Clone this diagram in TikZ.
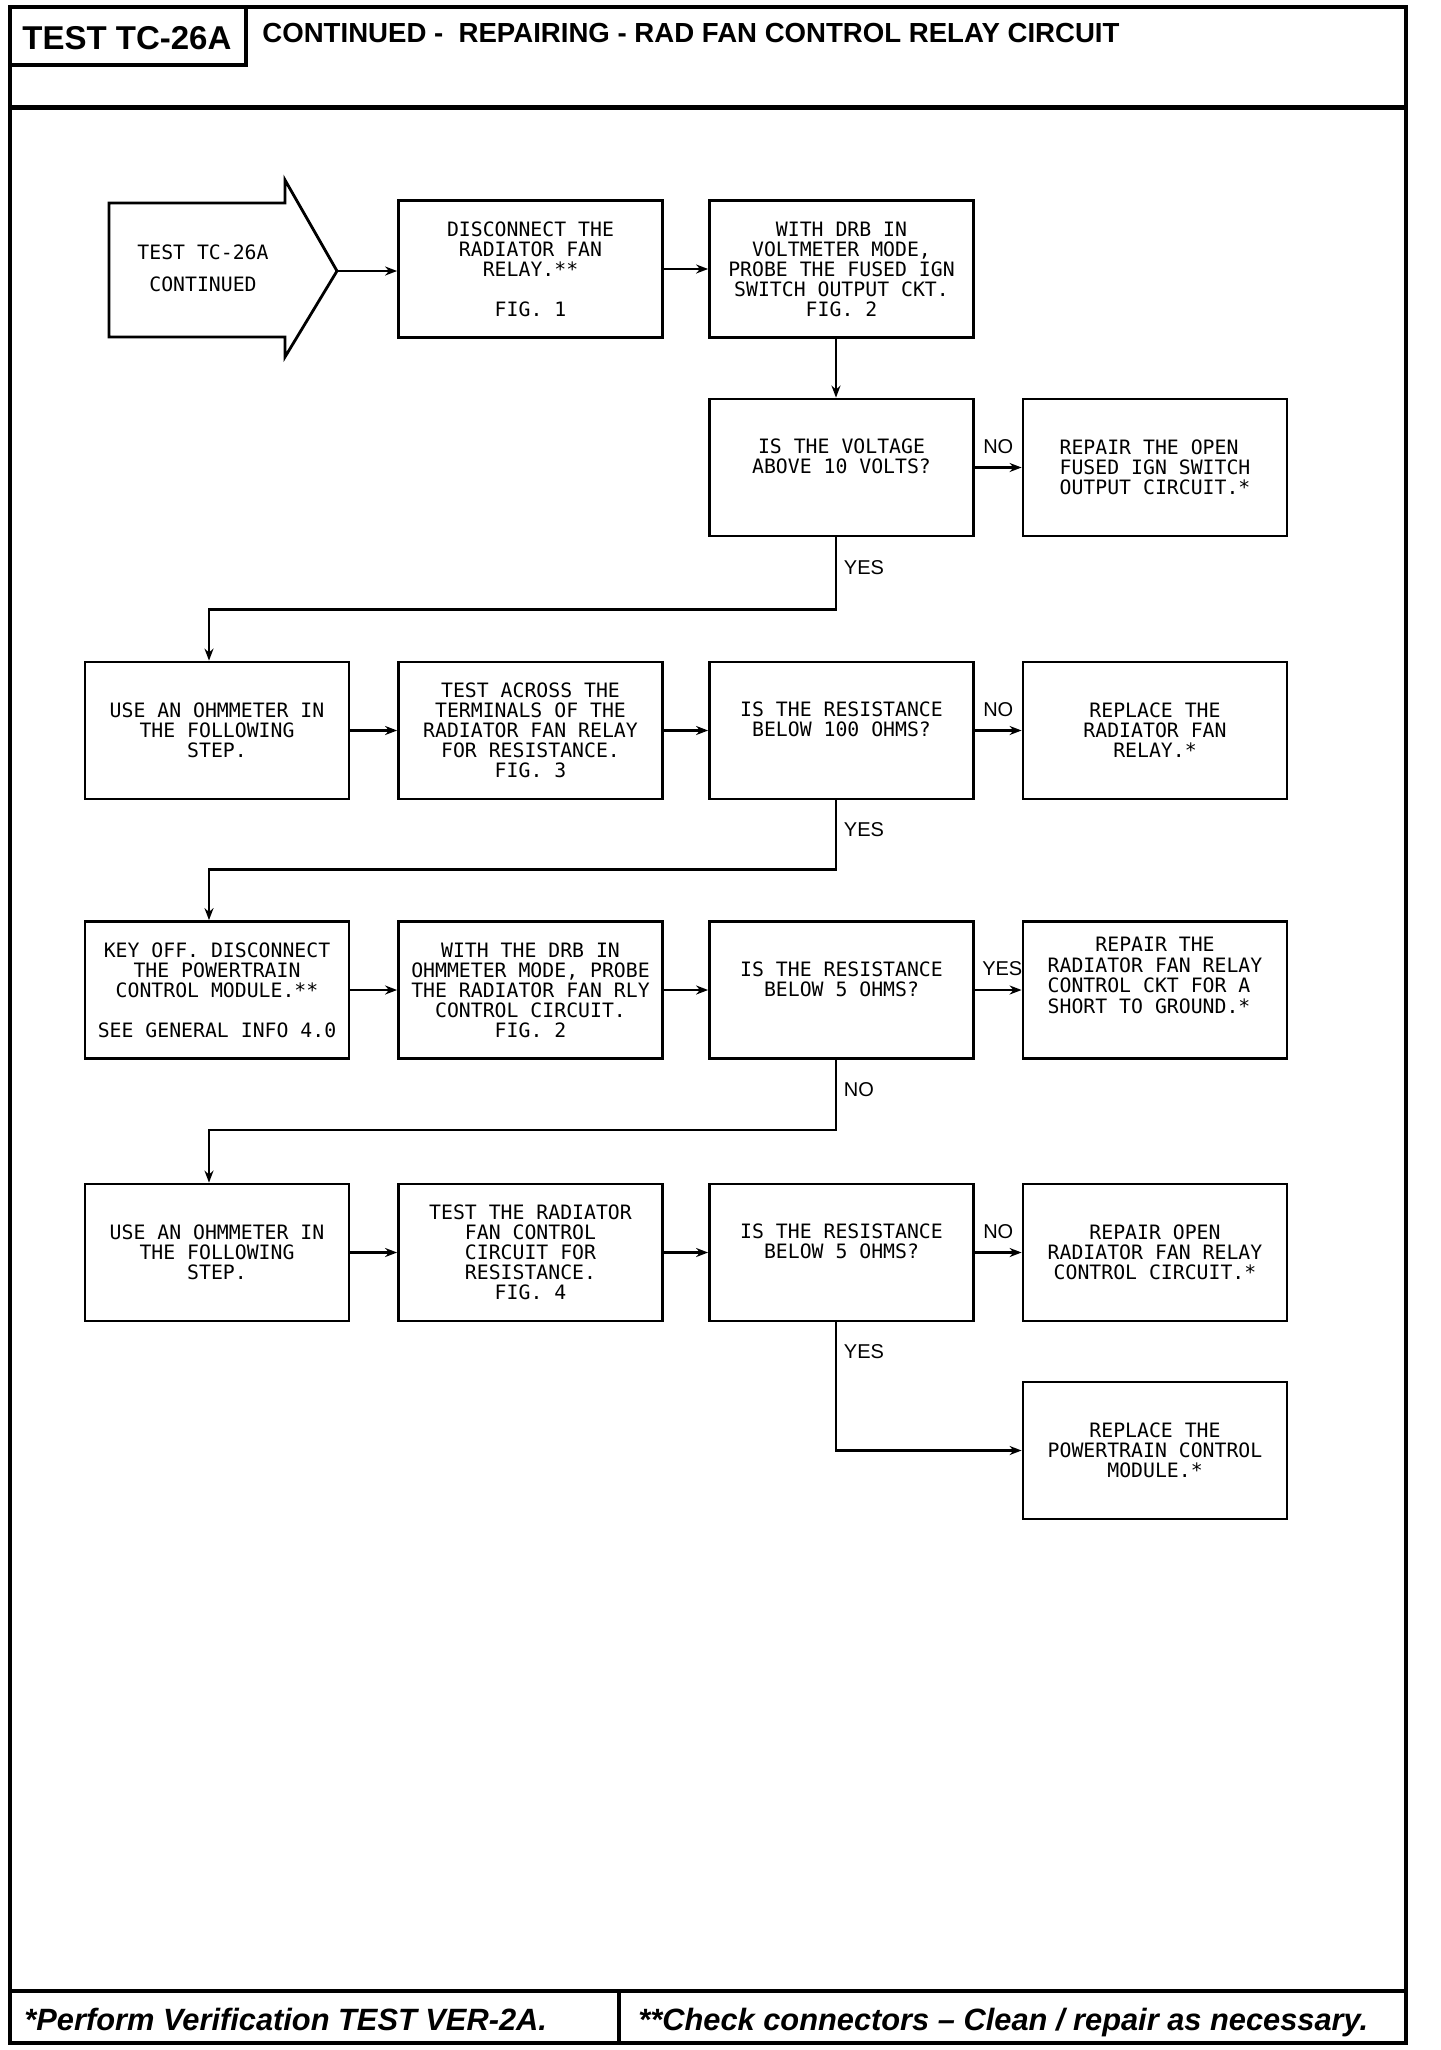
\documentclass[tikz,border=0pt]{standalone}
\usepackage{fontspec}
\setmainfont{Liberation Sans}
\newfontfamily\plotfont{DejaVu Sans Mono}
\usetikzlibrary{arrows.meta,calc}
\begin{document}
\begin{tikzpicture}[x=0.5pt,y=-0.5pt,
  box/.style={draw,line width=1.4pt,minimum width=132pt,minimum height=68.5pt,inner sep=0pt,align=center,font=\plotfont\fontsize{9.9}{10}\selectfont},
  txt/.style={inner sep=0pt,align=center,font=\plotfont\fontsize{9.9}{10}\selectfont},
  conn/.style={line width=1.3pt,-{Stealth[length=6pt,width=4.5pt]}},
  lbl/.style={inner sep=0pt,font=\fontsize{10}{12}\selectfont},
  frame/.style={line width=2pt},
]
\useasboundingbox (0,0) rectangle (1440,2050);
% frame
\draw[frame] (10,7) rectangle (1406,2043);
\draw[line width=1.6pt] (10,65) -| (246,7);
\draw[line width=2.5pt] (10,108) -- (1406,108);
\draw[frame] (10,1991) -- (1406,1991);
\draw[line width=1.6pt] (619,1991) -- (619,2043);
\node[anchor=base west,inner sep=0pt,font=\bfseries\fontsize{16.5}{18}\selectfont] (hdr) at (22,50) {TEST TC-26A};
\node[anchor=base west,inner sep=0pt,font=\bfseries\fontsize{13.8}{16}\selectfont] (title) at (262,43) {CONTINUED -\ \ REPAIRING - RAD FAN CONTROL RELAY CIRCUIT};
\node[anchor=base west,inner sep=0pt,font=\bfseries\itshape\fontsize{15.4}{18}\selectfont] (foot1) at (24,2030) {*Perform Verification TEST VER-2A.};
\node[anchor=base west,inner sep=0pt,font=\bfseries\itshape\fontsize{15.4}{18}\selectfont] (foot2) at (638,2030) {**Check connectors – Clean / repair as necessary.};

% start arrow
\draw[line width=1.4pt] (109,203) -- (285,203) -- (285,180) -- (337,271) -- (285,357) -- (285,337) -- (109,337) -- cycle;
\coordinate (Atip) at (337,271);
\node[txt] (A) at (203,268) {TEST TC-26A\\[6pt]CONTINUED};

% row 1
\node[box] (B1) at (530.5,269) {DISCONNECT THE\\RADIATOR FAN\\RELAY.**\\[10pt]FIG. 1};
\node[box] (C1) at (841.5,269) {WITH DRB IN\\VOLTMETER MODE,\\PROBE THE FUSED IGN\\SWITCH OUTPUT CKT.\\FIG. 2};
% row 2
\node[box] (D) at (841.5,467.5) {};
\node[txt] (Dt) at ([yshift=5.5pt]D.center) {IS THE VOLTAGE\\ABOVE 10 VOLTS?};
\node[box,align=left] (E) at (1155,467.5) {REPAIR THE OPEN\\FUSED IGN SWITCH\\OUTPUT CIRCUIT.*};
% row 3
\node[box] (F) at (217,730.5) {USE AN OHMMETER IN\\THE FOLLOWING\\STEP.};
\node[box] (G) at (530.5,730.5) {TEST ACROSS THE\\TERMINALS OF THE\\RADIATOR FAN RELAY\\FOR RESISTANCE.\\FIG. 3};
\node[box] (H) at (841.5,730.5) {};
\node[txt] (Ht) at ([yshift=5.5pt]H.center) {IS THE RESISTANCE\\BELOW 100 OHMS?};
\node[box] (I) at (1155,730.5) {REPLACE THE\\RADIATOR FAN\\RELAY.*};
% row 4
\node[box] (J) at (217,990) {KEY OFF. DISCONNECT\\THE POWERTRAIN\\CONTROL MODULE.**\\[10pt]SEE GENERAL INFO 4.0};
\node[box] (K) at (530.5,990) {WITH THE DRB IN\\OHMMETER MODE, PROBE\\THE RADIATOR FAN RLY\\CONTROL CIRCUIT.\\FIG. 2};
\node[box] (L) at (841.5,990) {};
\node[txt] (Lt) at ([yshift=5.5pt]L.center) {IS THE RESISTANCE\\BELOW 5 OHMS?};
\node[box] (M) at (1155,990) {};
\node[txt] (Mt) at ([yshift=5.9pt]M.center) {\begin{tabular}{@{}l@{}}\multicolumn{1}{@{}c@{}}{REPAIR THE}\\RADIATOR FAN RELAY\\CONTROL CKT FOR A\\SHORT TO GROUND.*\end{tabular}};
% row 5
\node[box] (N) at (217,1252.5) {USE AN OHMMETER IN\\THE FOLLOWING\\STEP.};
\node[box] (O) at (530.5,1252.5) {TEST THE RADIATOR\\FAN CONTROL\\CIRCUIT FOR\\RESISTANCE.\\FIG. 4};
\node[box] (P) at (841.5,1252.5) {};
\node[txt] (Pt) at ([yshift=5.5pt]P.center) {IS THE RESISTANCE\\BELOW 5 OHMS?};
\node[box] (Q) at (1155,1252.5) {REPAIR OPEN\\RADIATOR FAN RELAY\\CONTROL CIRCUIT.*};
% row 6
\node[box] (R) at (1155,1450.5) {REPLACE THE\\POWERTRAIN CONTROL\\MODULE.*};

% connectors
\draw[conn] (Atip) -- (B1.west |- Atip);
\draw[conn] (B1.east) -- (C1.west);
\draw[conn] ([xshift=-2.75pt]C1.south) -- ([xshift=-2.75pt]D.north);
\draw[conn] (D.east) -- (E.west);
\node[lbl] (no1) at ($(D.east)!0.5!(E.west)+(0,10.5pt)$) {NO};
\draw[conn] ([xshift=-2.75pt]D.south) -- ++(0,-36pt) -| ([xshift=-4pt]F.north);
\node[lbl,anchor=west] (yes1) at ([xshift=1pt,yshift=-15pt]D.south) {YES};

\draw[conn] (F.east) -- (G.west);
\draw[conn] (G.east) -- (H.west);
\draw[conn] (H.east) -- (I.west);
\node[lbl] (no2) at ($(H.east)!0.5!(I.west)+(0,10.5pt)$) {NO};
\draw[conn] ([xshift=-2.75pt]H.south) -- ++(0,-34.5pt) -| ([xshift=-4pt]J.north);
\node[lbl,anchor=west] (yes2) at ([xshift=1pt,yshift=-14.5pt]H.south) {YES};

\draw[conn] (J.east) -- (K.west);
\draw[conn] (K.east) -- (L.west);
\draw[conn] (L.east) -- (M.west);
\node[lbl] (yes3) at ($(L.east)!0.5!(M.west)+(2pt,10.5pt)$) {YES};
\draw[conn] ([xshift=-2.75pt]L.south) -- ++(0,-35pt) -| ([xshift=-4pt]N.north);
\node[lbl,anchor=west] (no3) at ([xshift=1pt,yshift=-15pt]L.south) {NO};

\draw[conn] (N.east) -- (O.west);
\draw[conn] (O.east) -- (P.west);
\draw[conn] (P.east) -- (Q.west);
\node[lbl] (no4) at ($(P.east)!0.5!(Q.west)+(0,10.5pt)$) {NO};
\draw[conn] ([xshift=-2.75pt]P.south) |- (R.west);
\node[lbl,anchor=west] (yes4) at ([xshift=1pt,yshift=-14.5pt]P.south) {YES};
\end{tikzpicture}
\end{document}
